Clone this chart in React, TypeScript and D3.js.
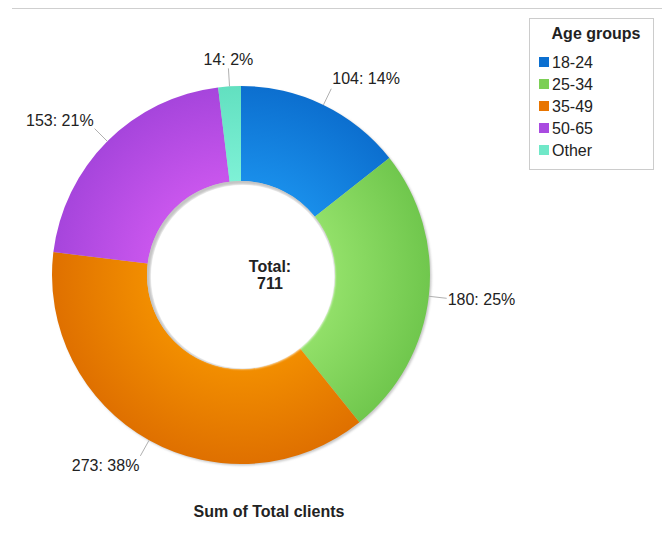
import React from "react";
import * as d3 from "d3";

const categories = ["18-24", "25-34", "35-49", "50-65", "Other"];
const values = [104, 180, 273, 153, 14];
const outerColors = ["#0c6fcf", "#70c74d", "#df7000", "#a645dc", "#62e0c0"];
const innerColors = ["#198eea", "#92e069", "#f28e00", "#c956ed", "#7ef1d6"];
const legendColors = ["#0b6fd0", "#7ccf55", "#e87500", "#a94be0", "#70e8c8"];
const legendTitle = "Age groups";
const centerLines = ["Total:", "711"];
const chartTitle = "Sum of Total clients";

const W = 662;
const H = 534;
const FONT = "'Liberation Sans', Arial, sans-serif";

export default function App() {
  const cx = 241;
  const cy = 275;
  const R = 189;
  const r = 94;
  const sum = d3.sum(values);
  const pie = d3
    .pie<number>()
    .sort(null)
    .value((d) => d)(values);
  const arc = d3.arc<d3.PieArcDatum<number>>().innerRadius(r).outerRadius(R);
  const leader = 18;

  return (
    <svg
      width={W}
      height={H}
      style={{ position: "absolute", left: 0, top: 0, background: "#fff" }}
      fontFamily={FONT}
    >
      <defs>
        {categories.map((c, i) => (
          <radialGradient
            key={c}
            id={`g${i}`}
            gradientUnits="userSpaceOnUse"
            cx={0}
            cy={0}
            r={R}
          >
            <stop offset={r / R} stopColor={innerColors[i]} />
            <stop offset={1} stopColor={outerColors[i]} />
          </radialGradient>
        ))}
        <filter id="blur" x="-10%" y="-10%" width="120%" height="120%">
          <feGaussianBlur stdDeviation={1.2} />
        </filter>
      </defs>
      <line x1={12} x2={W} y1={8.5} y2={8.5} stroke="#cfcfcf" />
      {/* outer shadow */}
      <circle cx={cx + 1.5} cy={cy + 1.5} r={R} fill="#c8c8c8" filter="url(#blur)" />
      <g transform={`translate(${cx},${cy})`}>
        {pie.map((p, i) => (
          <path key={i} d={arc(p) || ""} fill={`url(#g${i})`} />
        ))}
      </g>
      {/* inner hole shadow */}
      <circle cx={cx} cy={cy} r={r} fill="#c4c4c4" />
      <circle cx={cx + 1.6} cy={cy + 1.6} r={r - 1.6} fill="#fff" filter="url(#blur)" />
      <circle cx={cx + 1.6} cy={cy + 1.6} r={r - 2.4} fill="#fff" />
      {/* labels */}
      {pie.map((p, i) => {
        const a = (p.startAngle + p.endAngle) / 2;
        const s = Math.sin(a);
        const c = Math.cos(a);
        const x0 = cx + R * s;
        const y0 = cy - R * c;
        const x1 = cx + (R + leader) * s;
        const y1 = cy - (R + leader) * c;
        const pct = Math.round((values[i] / sum) * 100);
        const txt = `${values[i]}: ${pct}%`;
        let anchor: "start" | "end" | "middle" = s > 0 ? "start" : "end";
        let tx = x1 + (s > 0 ? 1 : -1);
        let ty = y1 - 11 * c;
        if (Math.abs(s) < 0.3) {
          anchor = "middle";
          tx = x1;
          ty = y1 - 9 * Math.sign(c);
        }
        return (
          <g key={i}>
            <line x1={x0} y1={y0} x2={x1} y2={y1} stroke="#b0b0b0" strokeWidth={1} />
            <text
              x={tx}
              y={ty}
              textAnchor={anchor}
              dominantBaseline="central"
              fontSize={16}
              fill="#222"
            >
              {txt}
            </text>
          </g>
        );
      })}
      {/* center text */}
      {centerLines.map((t, i) => (
        <text
          key={i}
          x={270}
          y={272 + i * 17}
          textAnchor="middle"
          fontSize={16}
          fontWeight="bold"
          fill="#222"
        >
          {t}
        </text>
      ))}
      {/* legend */}
      <rect x={529.5} y={18.5} width={124} height={151} fill="#fff" stroke="#cccccc" />
      <text x={596} y={39} textAnchor="middle" fontSize={16} fontWeight="bold" fill="#222">
        {legendTitle}
      </text>
      {categories.map((c, i) => (
        <g key={c}>
          <rect x={539} y={57 + i * 22} width={10} height={10} fill={legendColors[i]} />
          <text x={552} y={68 + i * 22} fontSize={16} fill="#222">
            {c}
          </text>
        </g>
      ))}
      <text x={269} y={517} textAnchor="middle" fontSize={16} fontWeight="bold" fill="#222">
        {chartTitle}
      </text>
    </svg>
  );
}
